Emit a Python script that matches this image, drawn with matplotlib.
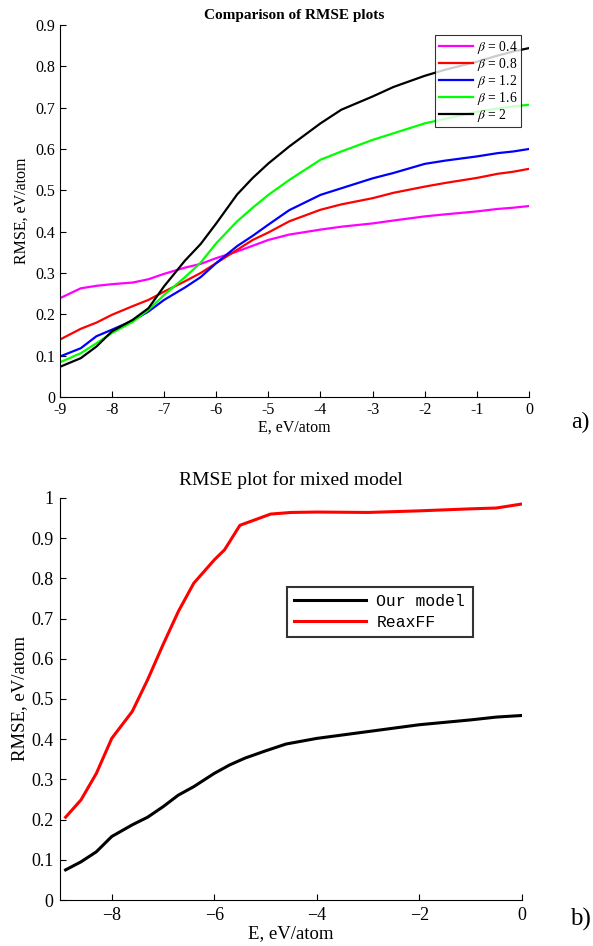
import numpy as np
import matplotlib
matplotlib.use("Agg")
import matplotlib.pyplot as plt

plt.rcParams['font.family'] = ['Liberation Serif', 'DejaVu Serif']
plt.rcParams['mathtext.fontset'] = 'stix'

# top panel: RMSE for several beta values
E = [-9, -8.6, -8.3, -8, -7.6, -7.3, -7, -6.6, -6.3, -6, -5.6, -5.3, -5, -4.6,
     -4, -3.6, -3, -2.6, -2, -1.6, -1, -0.6, -0.3, 0]
betas = ["0.4", "0.8", "1.2", "1.6", "2"]
rmse_04 = [.239, .263, .269, .273, .277, .285, .298, .313, .322, .336, .352, .366,
           .380, .393, .405, .412, .420, .427, .437, .442, .449, .455, .458, .462]
rmse_08 = [.139, .165, .180, .199, .220, .235, .255, .280, .300, .324, .356, .380,
           .398, .425, .453, .466, .481, .494, .509, .518, .530, .540, .545, .552]
rmse_12 = [.098, .118, .147, .163, .185, .207, .235, .265, .290, .324, .365, .390,
           .417, .452, .489, .505, .529, .542, .564, .572, .582, .590, .594, .600]
rmse_16 = [.084, .106, .130, .155, .182, .211, .247, .290, .325, .372, .425, .458,
           .489, .525, .574, .594, .622, .638, .662, .673, .690, .698, .703, .707]
rmse_20 = [.073, .094, .122, .159, .187, .215, .268, .330, .370, .420, .490, .530,
           .565, .606, .662, .695, .727, .750, .777, .792, .811, .826, .836, .844]
colors = ["#ff00ff", "#ff0000", "#0000ff", "#00ff00", "#000000"]

# bottom panel: mixed model vs ReaxFF
E2 = [-8.9, -8.6, -8.3, -8, -7.6, -7.3, -7, -6.7, -6.4, -6, -5.8, -5.5, -5.2,
      -4.9, -4.5, -4, -3, -2, -1, -0.5, 0]
reaxff = [.206, .249, .315, .402, .469, .548, .635, .718, .788, .846, .871, .932,
          .946, .960, .964, .965, .964, .968, .973, .975, .985]
E3 = [-8.9, -8.6, -8.3, -8, -7.6, -7.3, -7, -6.7, -6.4, -6, -5.7, -5.4, -5,
      -4.6, -4, -3, -2, -1, -0.5, 0]
our_model = [.075, .095, .120, .158, .187, .206, .232, .261, .282, .315, .336, .353,
             .371, .388, .402, .419, .436, .448, .455, .459]

fig = plt.figure(figsize=(5.93, 9.46), dpi=100)

ax1 = fig.add_axes([0.101, 0.5803, 0.791, 0.3933])
for b, y, c in zip(betas, [rmse_04, rmse_08, rmse_12, rmse_16, rmse_20], colors):
    ax1.plot(E, y, color=c, lw=1.6, label=r"$\beta$ = " + b)
ax1.set_xlim(-9, 0)
ax1.set_ylim(0, 0.9)
ax1.set_xticks(range(-9, 1))
ax1.set_xticklabels([str(v) for v in range(-9, 1)])
ax1.set_yticks(np.arange(0, 0.91, 0.1))
ax1.set_yticklabels(["0"] + ["%.1f" % v for v in np.arange(0.1, 0.91, 0.1)])
ax1.tick_params(direction="in", labelsize=11.5, length=4, width=0.8)
for s in ["top", "right"]:
    ax1.spines[s].set_visible(False)
ax1.set_xlabel("E, eV/atom", fontsize=11.5, labelpad=1)
ax1.set_ylabel("RMSE, eV/atom", fontsize=11.5, labelpad=4)
ax1.set_title("Comparison of RMSE plots", fontsize=11, fontweight="bold", pad=4)
leg1 = ax1.legend(loc="upper left", bbox_to_anchor=(0.80, 0.972), fontsize=9.8,
                  frameon=True, fancybox=False, edgecolor="black", handlelength=2.5,
                  borderpad=0.25, labelspacing=0.0, handletextpad=0.3, borderaxespad=0)
leg1.get_frame().set_linewidth(0.8)
fig.text(0.963, 0.553, "a)", fontsize=17, ha="left", va="center")

ax2 = fig.add_axes([0.102, 0.0486, 0.778, 0.425])
ax2.plot(E3, our_model, color="black", lw=2.2, label="Our model")
ax2.plot(E2, reaxff, color="#ff0000", lw=2.2, label="ReaxFF")
ax2.set_xlim(-9, 0)
ax2.set_ylim(0, 1)
ax2.set_xticks([-8, -6, -4, -2, 0])
ax2.set_xticklabels(["\u22128", "\u22126", "\u22124", "\u22122", "0"])
ax2.set_yticks(np.arange(0, 1.01, 0.1))
ax2.set_yticklabels(["0"] + ["%.1f" % v for v in np.arange(0.1, 0.91, 0.1)] + ["1"])
ax2.tick_params(direction="in", labelsize=13, length=4, width=0.8, pad=5)
for s in ["top", "right"]:
    ax2.spines[s].set_visible(False)
ax2.set_xlabel("E, eV/atom", fontsize=13.5, labelpad=1)
ax2.set_ylabel("RMSE, eV/atom", fontsize=13.5, labelpad=2)
ax2.set_title("RMSE plot for mixed model", fontsize=14, pad=9)
leg2 = ax2.legend(loc="upper left", bbox_to_anchor=(0.491, 0.779), prop={"family": "Liberation Mono", "size": 11.8},
                  frameon=True, fancybox=False, edgecolor="black", handlelength=4.4,
                  borderpad=0.45, labelspacing=0.35, handletextpad=0.6, borderaxespad=0)
leg2.get_frame().set_linewidth(1.5)
fig.text(0.962, 0.028, "b)", fontsize=18, ha="left", va="center")

fig.savefig("out.png", dpi=100)
